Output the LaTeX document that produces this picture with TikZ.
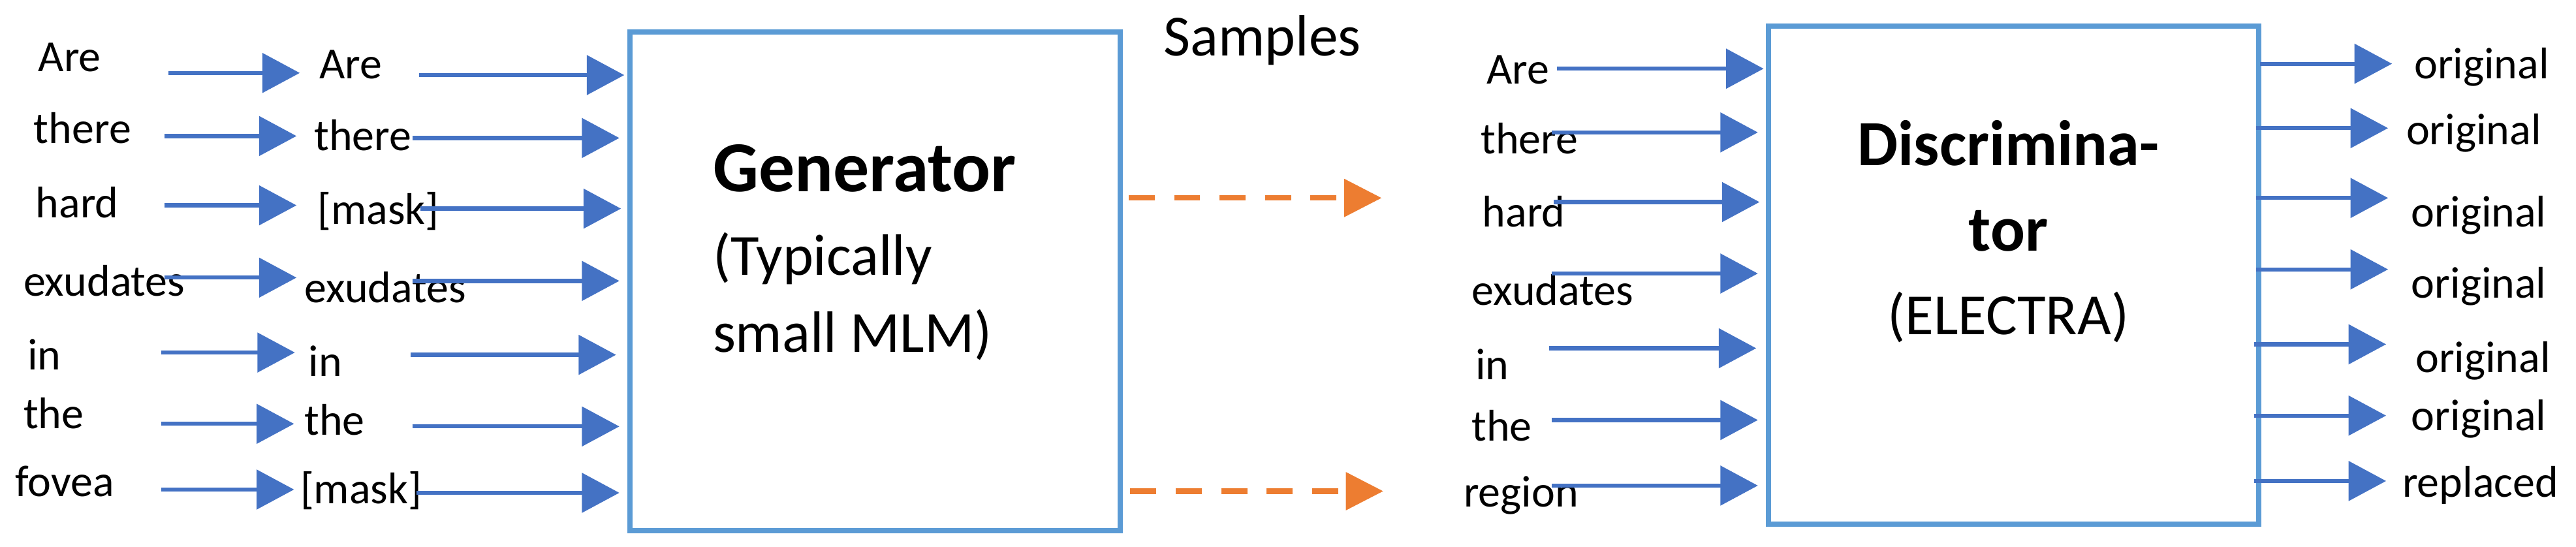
\documentclass[tikz,border=0pt]{standalone}
\usepackage{fontspec}
\setmainfont{Carlito}
\usetikzlibrary{arrows.meta}
\definecolor{arrblue}{HTML}{4472C4}
\definecolor{boxblue}{HTML}{5B9BD5}
\definecolor{sampor}{HTML}{ED7D31}
\begin{document}
\begin{tikzpicture}[x=0.6pt,y=-0.6pt,
  word/.style={anchor=base west, inner sep=0pt, font=\fontsize{16.2}{19}\selectfont},
  flow/.style={draw=arrblue, line width=1.5pt, -{Triangle[length=13.7pt,width=14.3pt]}},
  sample/.style={draw=sampor, line width=2pt, dash pattern=on 9.5pt off 7.1pt, -{Triangle[length=13.7pt,width=13.5pt]}},
  model/.style={draw=boxblue, line width=1.9pt, inner sep=0pt, minimum width=179pt, minimum height=182pt},
  big/.style={inner sep=0pt, font=\fontsize{21.3}{25}\selectfont}]
\useasboundingbox (0,0) rectangle (1568,332.6);

% boxes
\node[model] (gen) at (532.55,171.3) {};
\node[model] (disc) at (1225.5,167.4) {};

% generator text
\node[big, anchor=base west, font=\fontsize{26.2}{30}\bfseries] (gent) at (433.6,116.6) {Generator};
\node[big, anchor=base west] (gens1) at (433.6,167.6) {(Typically};
\node[big, anchor=base west] (gens2) at (433.6,214.3) {small MLM)};

% discriminator text
\node[big, anchor=base, font=\fontsize{23.5}{28}\bfseries] (disct1) at (1222.5,100.8) {Discrimina-};
\node[big, anchor=base, font=\fontsize{23.5}{28}\bfseries] (disct2) at (1222.5,152.8) {tor};
\node[big, anchor=base] (discs) at (1222.5,203.7) {(ELECTRA)};

% samples label
\node[big, anchor=base west] (samples) at (708,34) {Samples};

% input words
\foreach \w/\x/\y [count=\i] in {Are/23/43.7, there/20.3/87.4, hard/21.5/132.5, exudates/14/180, in/16.5/225, the/14/261, fovea/9/302}
  \node[word] (a\i) at (\x,\y) {\w};
% masked words
\foreach \w/\x/\y [count=\i] in {Are/194/47.7, there/191/91.4, {[mask]}/193/136.5, exudates/185/184, in/187.5/229, the/185/265, {[mask]}/182.5/306.5}
  \node[word] (b\i) at (\x,\y) {\w};
% discriminator inputs
\foreach \w/\x/\y [count=\i] in {Are/904.6/50.9, there/901/93.4, hard/902/138, exudates/895.5/185.6, in/897.8/231, the/895.5/268.4, region/890.6/308.7}
  \node[word] (c\i) at (\x,\y) {\w};
% outputs
\foreach \w/\x/\y [count=\i] in {original/1469.2/47.7, original/1464.4/88, original/1467.5/138, original/1467.5/181.4, original/1470/226.6, original/1467.5/262, replaced/1462/302.4}
  \node[word] (d\i) at (\x,\y) {\w};

% arrows: input -> masked
\foreach \sx/\ex/\y [count=\i] in {102.6/182.5/44.4, 100/180.5/82.8, 100/180.5/125, 100/180.5/169, 98/179.5/214.6, 98/179/258, 98/179/298}
  {\coordinate (ps\i) at (\sx,\y); \coordinate (pe\i) at (\ex,\y); \draw[flow] (ps\i) -- (pe\i);}
% arrows: masked -> generator
\foreach \sx/\ex/\y [count=\i] in {255/380/45.7, 251/377/84, 256/378/127, 251/377/171, 250/375/216, 251/377/259.6, 253.5/377/300}
  {\coordinate (qs\i) at (\sx,\y); \coordinate (qe\i) at (\ex,\y); \draw[flow] (qs\i) -- (qe\i);}
% arrows: words -> discriminator
\foreach \sx/\ex/\y [count=\i] in {947.8/1073.5/41.8, 944.6/1070/80.6, 945.8/1071/123, 944.6/1070/166.5, 943/1069/212, 944.6/1070/255.7, 944.6/1070/295.6}
  {\coordinate (rs\i) at (\sx,\y); \coordinate (re\i) at (\ex,\y); \draw[flow] (rs\i) -- (re\i);}
% arrows: discriminator -> outputs
\foreach \sx/\ex/\y [count=\i] in {1375.8/1456/38.8, 1373.3/1453.6/78, 1373.3/1453.6/120.5, 1373.3/1453.6/164, 1372/1452.4/209.6, 1372/1452.4/253, 1372/1452.4/292.8}
  {\coordinate (ss\i) at (\sx,\y); \coordinate (se\i) at (\ex,\y); \draw[flow] (ss\i) -- (se\i);}

% sample arrows
\coordinate (o1s) at (687,120.5); \coordinate (o1e) at (841,120.5);
\coordinate (o2s) at (688,299); \coordinate (o2e) at (842,299);
\draw[sample] (o1s) -- (o1e);
\draw[sample] (o2s) -- (o2e);
\end{tikzpicture}
\end{document}
